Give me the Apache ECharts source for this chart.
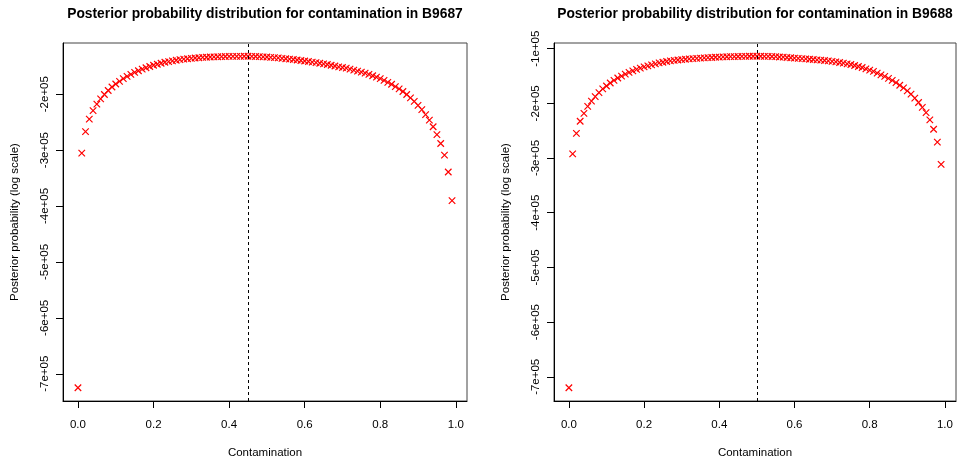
<!DOCTYPE html>
<html>
<head>
<meta charset="utf-8">
<script src="https://cdn.jsdelivr.net/npm/echarts@6/dist/echarts.min.js"></script>
<style>
  html, body { margin: 0; padding: 0; background: #ffffff; }
  #chart { width: 957px; height: 464px; }
</style>
</head>
<body>
<div id="chart"></div>
<script>
// Contamination fractions evaluated on the grid
const contamination = [
  0.00, 0.01, 0.02, 0.03, 0.04, 0.05, 0.06, 0.07, 0.08, 0.09,
  0.10, 0.11, 0.12, 0.13, 0.14, 0.15, 0.16, 0.17, 0.18, 0.19,
  0.20, 0.21, 0.22, 0.23, 0.24, 0.25, 0.26, 0.27, 0.28, 0.29,
  0.30, 0.31, 0.32, 0.33, 0.34, 0.35, 0.36, 0.37, 0.38, 0.39,
  0.40, 0.41, 0.42, 0.43, 0.44, 0.45, 0.46, 0.47, 0.48, 0.49,
  0.50, 0.51, 0.52, 0.53, 0.54, 0.55, 0.56, 0.57, 0.58, 0.59,
  0.60, 0.61, 0.62, 0.63, 0.64, 0.65, 0.66, 0.67, 0.68, 0.69,
  0.70, 0.71, 0.72, 0.73, 0.74, 0.75, 0.76, 0.77, 0.78, 0.79,
  0.80, 0.81, 0.82, 0.83, 0.84, 0.85, 0.86, 0.87, 0.88, 0.89,
  0.90, 0.91, 0.92, 0.93, 0.94, 0.95, 0.96, 0.97, 0.98, 0.99
];

// Log posterior for sample B9687
const posteriorB9687 = [
  -725000, -305500, -267100, -244700, -229500, -217700, -208300, -200500, -193500, -187100,
  -181800, -177000, -172300, -168200, -164700, -161100, -158100, -155300, -152800, -150500,
  -148200, -146500, -144700, -142900, -141700, -140500, -139400, -138200, -137300, -136600,
  -135900, -135300, -134800, -134300, -133900, -133600, -133300, -133000, -132900, -132700,
  -132500, -132400, -132300, -132300, -132200, -132200, -132300, -132600, -132900, -133200,
  -133600, -134100, -134600, -135200, -135900, -136600, -137300, -138000, -138900, -139800,
  -140600, -141500, -142600, -143600, -144700, -145800, -147000, -148200, -149600, -151100,
  -152300, -153500, -155300, -157100, -158800, -160600, -162400, -164700, -167000, -169400,
  -172300, -175300, -178800, -182300, -186400, -190600, -195200, -200500, -206500, -212900,
  -220000, -227700, -236600, -246500, -258300, -272400, -288300, -309000, -339100, -390300
];

// Log posterior for sample B9688
const posteriorB9688 = [
  -720000, -292500, -255000, -232800, -218300, -205600, -195900, -187600, -180300, -173600,
  -168200, -162800, -157900, -153700, -150100, -146500, -143400, -140500, -138000, -135600,
  -133300, -131500, -129700, -127900, -126100, -124800, -123500, -122400, -121500, -120800,
  -120100, -119400, -118800, -118300, -117700, -117200, -116800, -116500, -116100, -115700,
  -115400, -115100, -114800, -114700, -114500, -114300, -114100, -114000, -113900, -113900,
  -113900, -113900, -114000, -114100, -114400, -114700, -115200, -115600, -116100, -116600,
  -117200, -117700, -118300, -118800, -119400, -119900, -120400, -121000, -121700, -122400,
  -123300, -124200, -125300, -126400, -127700, -128900, -130800, -132600, -134400, -136900,
  -139300, -141600, -144700, -147800, -150700, -154300, -157900, -162200, -166900, -171800,
  -177200, -183200, -190500, -198400, -207500, -217000, -230300, -247300, -270800, -311700
];

// Maximum a posteriori contamination for each sample
const mapB9687 = 0.45;
const mapB9688 = 0.50;

// Axis ticks
const xTicks = [0, 0.2, 0.4, 0.6, 0.8, 1.0];
const xTickLabels = ['0.0', '0.2', '0.4', '0.6', '0.8', '1.0'];
const yTicksB9687 = [-700000, -600000, -500000, -400000, -300000, -200000];
const yTicksB9688 = [-700000, -600000, -500000, -400000, -300000, -200000, -100000];
const yTickLabel = {
  '-700000': '-7e+05', '-600000': '-6e+05', '-500000': '-5e+05',
  '-400000': '-4e+05', '-300000': '-3e+05', '-200000': '-2e+05', '-100000': '-1e+05'
};

const FONT = '"Liberation Sans", Arial, Helvetica, sans-serif';

// Base-graphics style range: data range widened by 4% on each side
function paddedRange(values) {
  const lo = Math.min(...values), hi = Math.max(...values);
  const pad = (hi - lo) * 0.04;
  return [lo - pad, hi + pad];
}

const xr = paddedRange(contamination);
const yrA = paddedRange(posteriorB9687);
const yrB = paddedRange(posteriorB9688);

const crossSymbol = 'path://M0,0L10,10M10,0L0,10';

function xAxisFor(gridIndex) {
  return {
    type: 'value', gridIndex, min: xr[0], max: xr[1],
    name: 'Contamination', nameLocation: 'middle', nameGap: 46,
    nameTextStyle: { fontFamily: FONT, fontSize: 11.5, color: '#000' },
    axisLine: { show: true, onZero: false, lineStyle: { color: '#000', width: 1 } },
    axisTick: { show: true, length: 7, inside: false, customValues: xTicks, lineStyle: { color: '#000' } },
    axisLabel: {
      show: true, margin: 18, customValues: xTicks, color: '#000',
      fontFamily: FONT, fontSize: 11.5,
      formatter: v => xTickLabels[xTicks.findIndex(t => Math.abs(t - v) < 1e-9)]
    },
    splitLine: { show: false }
  };
}

function yAxisFor(gridIndex, range, ticks) {
  return {
    type: 'value', gridIndex, min: range[0], max: range[1],
    name: 'Posterior probability (log scale)', nameLocation: 'middle', nameGap: 42, nameRotate: 90,
    nameTextStyle: { fontFamily: FONT, fontSize: 11.5, color: '#000' },
    axisLine: { show: true, onZero: false, lineStyle: { color: '#000', width: 1 } },
    axisTick: { show: true, length: 7, inside: false, customValues: ticks, lineStyle: { color: '#000' } },
    axisLabel: {
      show: true, margin: 12, rotate: 90, customValues: ticks, color: '#000',
      fontFamily: FONT, fontSize: 11.5,
      formatter: v => yTickLabel[String(Math.round(v))]
    },
    splitLine: { show: false }
  };
}

function seriesFor(index, values, mode) {
  return {
    type: 'scatter', xAxisIndex: index, yAxisIndex: index,
    data: contamination.map((c, i) => [c, values[i]]),
    symbol: crossSymbol, symbolSize: 6.5,
    itemStyle: { color: 'transparent', borderColor: '#ff0000', borderWidth: 1.2, opacity: 1 },
    emphasis: { disabled: true },
    silent: true,
    markLine: {
      silent: true, symbol: 'none', animation: false,
      label: { show: false },
      lineStyle: { color: '#000', width: 1, type: [3, 3] },
      data: [{ xAxis: mode }]
    }
  };
}

const chart = echarts.init(document.getElementById('chart'), null, { renderer: 'canvas' });
chart.setOption({
  animation: false,
  backgroundColor: '#ffffff',
  title: [
    {
      text: 'Posterior probability distribution for contamination in B9687',
      left: 265, top: 7, textAlign: 'center', padding: 0,
      textStyle: { fontFamily: FONT, fontSize: 13.8, fontWeight: 'bold', color: '#000' }
    },
    {
      text: 'Posterior probability distribution for contamination in B9688',
      left: 755, top: 7, textAlign: 'center', padding: 0,
      textStyle: { fontFamily: FONT, fontSize: 13.8, fontWeight: 'bold', color: '#000' }
    }
  ],
  grid: [
    { left: 63, top: 43, width: 404, height: 361, show: true, borderColor: '#444', borderWidth: 1, backgroundColor: 'transparent' },
    { left: 554, top: 43, width: 402, height: 361, show: true, borderColor: '#444', borderWidth: 1, backgroundColor: 'transparent' }
  ],
  xAxis: [xAxisFor(0), xAxisFor(1)],
  yAxis: [yAxisFor(0, yrA, yTicksB9687), yAxisFor(1, yrB, yTicksB9688)],
  series: [
    seriesFor(0, posteriorB9687, mapB9687),
    seriesFor(1, posteriorB9688, mapB9688)
  ]
});
</script>
</body>
</html>
